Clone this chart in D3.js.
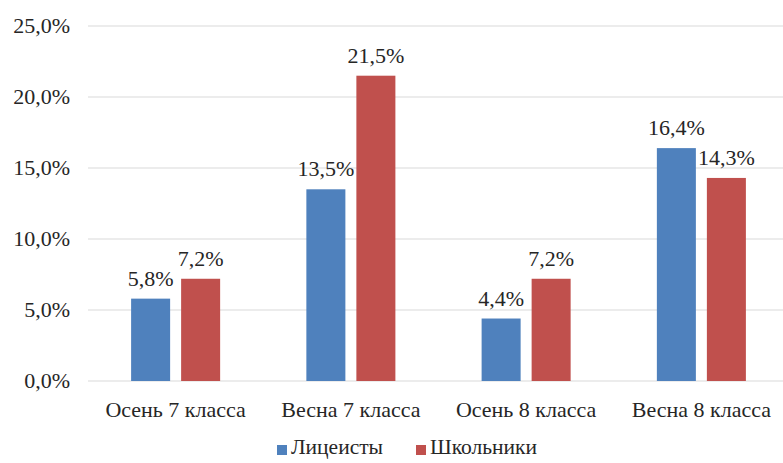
<!DOCTYPE html>
<html>
<head>
<meta charset="utf-8">
<script src="https://cdn.jsdelivr.net/npm/d3@7"></script>
</head>
<body style="margin:0;background:#fff">
<svg id="chart" width="783" height="463"></svg>
<script>
const categories = ["Осень 7 класса", "Весна 7 класса", "Осень 8 класса", "Весна 8 класса"];
const seriesNames = ["Лицеисты", "Школьники"];
const lyceum = [5.8, 13.5, 4.4, 16.4];
const school = [7.2, 21.5, 7.2, 14.3];
const yTicks = [0, 5, 10, 15, 20, 25];
const colors = ["#4F81BD", "#C0504D"];

const TEXT_COLOR = "#262626";
const FONT = '"Liberation Serif"';

const svg = d3.select("#chart");
const margin = { left: 88, right: -6, top: 26, bottom: 82 };
const W = 783, H = 463;
const plotW = W - margin.left - margin.right;

const fmt = v => v.toFixed(1).replace(".", ",") + "%";

const x0 = d3.scaleBand().domain(categories)
  .range([margin.left, margin.left + plotW]).paddingInner(0.492).paddingOuter(0.246);
const x1 = d3.scaleBand().domain(seriesNames)
  .range([0, x0.bandwidth()]).paddingInner(0.22);
const y = d3.scaleLinear().domain([0, 25]).range([H - margin.bottom, margin.top]);

// gridlines
svg.selectAll("line.grid").data(yTicks).join("line").attr("class", "grid")
  .attr("x1", margin.left).attr("x2", margin.left + plotW)
  .attr("y1", d => y(d)).attr("y2", d => y(d))
  .attr("stroke", "#D9D9D9").attr("stroke-width", 1.2);

// y tick labels
svg.selectAll("text.ytick").data(yTicks).join("text").attr("class", "ytick")
  .attr("x", margin.left - 18).attr("y", d => y(d) + 7)
  .attr("text-anchor", "end")
  .style("font-family", FONT).style("font-size", "22px").style("fill", TEXT_COLOR)
  .text(fmt);

// category labels
svg.selectAll("text.xtick").data(categories).join("text").attr("class", "xtick")
  .attr("x", d => x0(d) + x0.bandwidth() / 2).attr("y", y(0) + 36)
  .attr("text-anchor", "middle")
  .style("font-family", FONT).style("font-size", "22px").style("fill", TEXT_COLOR)
  .text(d => d);

const bars = [];
categories.forEach((c, i) => {
  [lyceum[i], school[i]].forEach((v, j) => bars.push({ c, v, s: seriesNames[j], j }));
});

svg.selectAll("rect.bar").data(bars).join("rect").attr("class", "bar")
  .attr("x", d => x0(d.c) + x1(d.s)).attr("width", x1.bandwidth())
  .attr("y", d => y(d.v)).attr("height", d => y(0) - y(d.v))
  .attr("fill", d => colors[d.j]);

// value labels above bars
svg.selectAll("text.lbl").data(bars).join("text").attr("class", "lbl")
  .attr("x", d => x0(d.c) + x1(d.s) + x1.bandwidth() / 2)
  .attr("y", d => y(d.v) - 13)
  .attr("text-anchor", "middle")
  .style("font-family", FONT).style("font-size", "22px").style("fill", TEXT_COLOR)
  .text(d => fmt(d.v));

// legend
const legendItems = seriesNames.map((name, i) => ({ name, i, x: 277 + i * 139 }));
svg.selectAll("rect.key").data(legendItems).join("rect").attr("class", "key")
  .attr("x", d => d.x).attr("y", 445).attr("width", 10).attr("height", 10)
  .attr("fill", d => colors[d.i]);
svg.selectAll("text.key").data(legendItems).join("text").attr("class", "key")
  .attr("x", d => d.x + 14).attr("y", 454)
  .style("font-family", FONT).style("font-size", "21.5px").style("fill", TEXT_COLOR)
  .text(d => d.name);
</script>
</body>
</html>
